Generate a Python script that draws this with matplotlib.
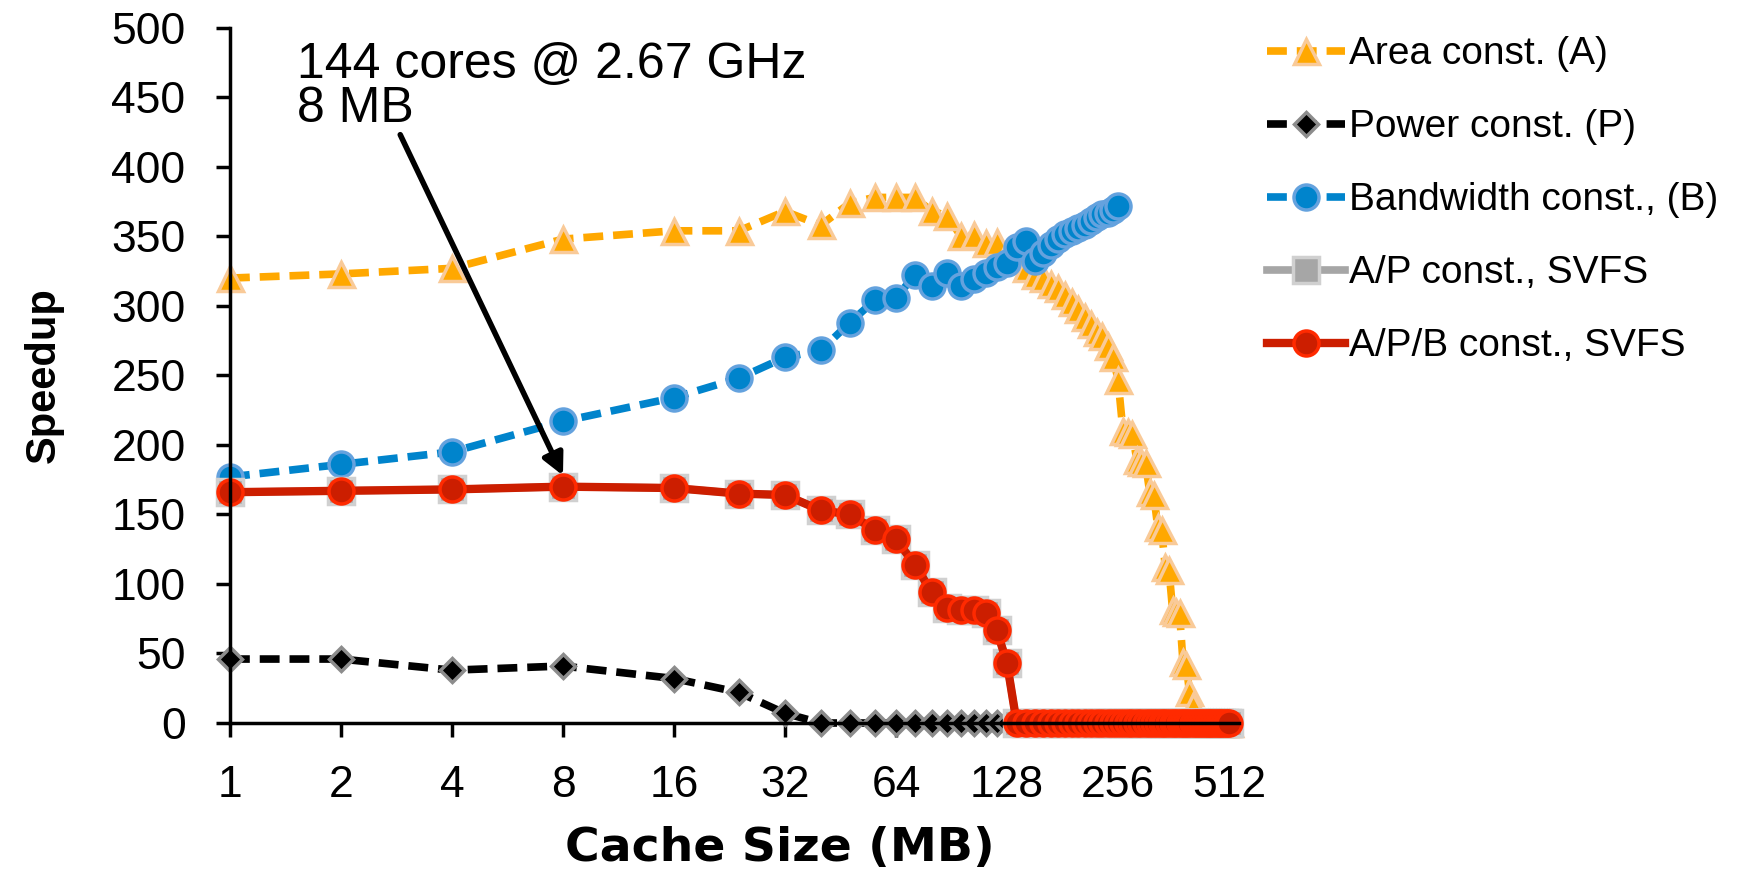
import numpy as np
import matplotlib.pyplot as plt

plt.rcParams['font.family'] = ['Liberation Sans', 'DejaVu Sans']

cache_mb = [1, 2, 4, 8, 16, 24, 32, 40, 48, 56, 64, 72, 80, 88, 96, 104, 112, 120, 128,
            136, 144, 152, 160, 168, 176, 184, 192, 200, 208, 216, 224, 232, 240, 248, 256,
            264, 272, 280, 288, 296, 304, 312, 320, 328, 336, 344, 352, 360, 368, 376, 384,
            392, 400, 408, 416, 424, 432, 440, 448, 456, 464, 472, 480, 488, 496, 504, 512]

area = [320, 323, 327, 348, 354, 354, 368, 358, 374, 378, 378, 378, 368, 365, 350, 351, 345, 346, 338,
        333, 327, 322, 320, 316, 313, 308, 303, 298, 292, 287, 281, 278, 271, 263, 247,
        210, 209, 208, 189, 188, 187, 166, 164, 141, 139, 112, 110, 81, 80, 79, 44,
        42, 22, 12, 0, 0, 0, 0, 0, 0, 0, 0, 0, 0, 0, 0, 0]

power = [46, 46, 38, 41, 32, 22, 7, 0, 0, 0, 0, 0, 0, 0, 0, 0, 0, 0, 0,
         0, 0, 0, 0, 0, 0, 0, 0, 0, 0, 0, 0, 0, 0, 0, 0,
         0, 0, 0, 0, 0, 0, 0, 0, 0, 0, 0, 0, 0, 0, 0, 0,
         0, 0, 0, 0, 0, 0, 0, 0, 0, 0, 0, 0, 0, 0, 0, 0]

# bandwidth-limited series stops at 256 MB
bandwidth = [177, 186, 195, 217, 234, 248, 263, 268, 288, 304, 306, 322, 314, 324, 314, 319, 324, 328, 331,
             342, 347, 332, 338, 344, 348, 352, 354, 356, 358, 361, 364, 366, 367, 369, 372]

apb_svfs = [166, 167, 168, 170, 169, 165, 164, 153, 150, 139, 132, 114, 94, 83, 81, 81, 79, 67, 43,
            0, 0, 0, 0, 0, 0, 0, 0, 0, 0, 0, 0, 0, 0, 0, 0,
            0, 0, 0, 0, 0, 0, 0, 0, 0, 0, 0, 0, 0, 0, 0, 0,
            0, 0, 0, 0, 0, 0, 0, 0, 0, 0, 0, 0, 0, 0, 0, 0]
ap_svfs = apb_svfs  # A/P line sits underneath A/P/B

x_ticks = [1, 2, 4, 8, 16, 32, 64, 128, 256, 512]
y_ticks = [0, 50, 100, 150, 200, 250, 300, 350, 400, 450, 500]

fig = plt.figure(figsize=(17.58, 8.69), dpi=100)
ax = fig.add_axes([0.1308, 0.168, 0.574, 0.80])

dash = (0, (2.6, 1.3))
ax.plot(cache_mb, area, color='#FFA800', linestyle=dash, linewidth=5.5,
        marker='^', markersize=18, markerfacecolor='#FFA800', markeredgecolor='#F9CA98',
        markeredgewidth=2.5, label='Area const. (A)')
ax.plot(cache_mb, power, color='black', linestyle=dash, linewidth=5.5,
        marker='D', markersize=12, markerfacecolor='black', markeredgecolor='#8C8C8C',
        markeredgewidth=2.5, label='Power const. (P)')
ax.plot(cache_mb[:len(bandwidth)], bandwidth, color='#0084CC', linestyle=dash, linewidth=5.5,
        marker='o', markersize=18, markerfacecolor='#0084CC', markeredgecolor='#64A2DE',
        markeredgewidth=2.5, label='Bandwidth const., (B)')
ax.plot(cache_mb, ap_svfs, color='#A6A6A6', linestyle='-', linewidth=5.5,
        marker='s', markersize=19, markerfacecolor='#A6A6A6', markeredgecolor='#D0D0D0',
        markeredgewidth=2.5, label='A/P const., SVFS')
ax.plot(cache_mb, apb_svfs, color='#CC1E00', linestyle='-', linewidth=6,
        marker='o', markersize=18, markerfacecolor='#CC1E00', markeredgecolor='#FF2A00',
        markeredgewidth=2.5, label='A/P/B const., SVFS')

ax.set_xscale('log', base=2)
ax.set_xlim(1, 545)
ax.set_ylim(0, 500)
ax.set_xticks(x_ticks)
ax.set_xticklabels([str(v) for v in x_ticks])
ax.minorticks_off()
ax.set_yticks(y_ticks)
ax.tick_params(axis='both', labelsize=32, direction='out', length=10, width=2.5)
ax.tick_params(axis='y', pad=22)
ax.tick_params(axis='x', pad=20)
for side in ['top', 'right']:
    ax.spines[side].set_visible(False)
for side in ['left', 'bottom']:
    ax.spines[side].set_linewidth(2.5)
    ax.spines[side].set_clip_on(False)
for ln in ax.lines:
    ln.set_clip_on(False)

ax.set_xlabel('Cache Size (MB)', fontsize=34, fontweight='bold', family=['DejaVu Sans'])
ax.xaxis.set_label_coords(0.545, -0.148)
ax.set_ylabel('Speedup', fontsize=30, fontweight='bold', labelpad=34)

ax.annotate('144 cores @ 2.67 GHz\n8 MB', xy=(8, 178), xytext=(1.52, 490),
            fontsize=36, va='top', ha='left', linespacing=0.95,
            arrowprops=dict(arrowstyle='-|>', color='black', lw=4, mutation_scale=32,
                            shrinkA=0, shrinkB=0, relpos=(0.2, 0.0)))

fig.legend(loc='upper left', bbox_to_anchor=(0.712, 0.976), frameon=False, fontsize=28,
           handlelength=2.0, handletextpad=0.1, labelspacing=0.95, borderaxespad=0)

fig.savefig('out.png', dpi=100)
